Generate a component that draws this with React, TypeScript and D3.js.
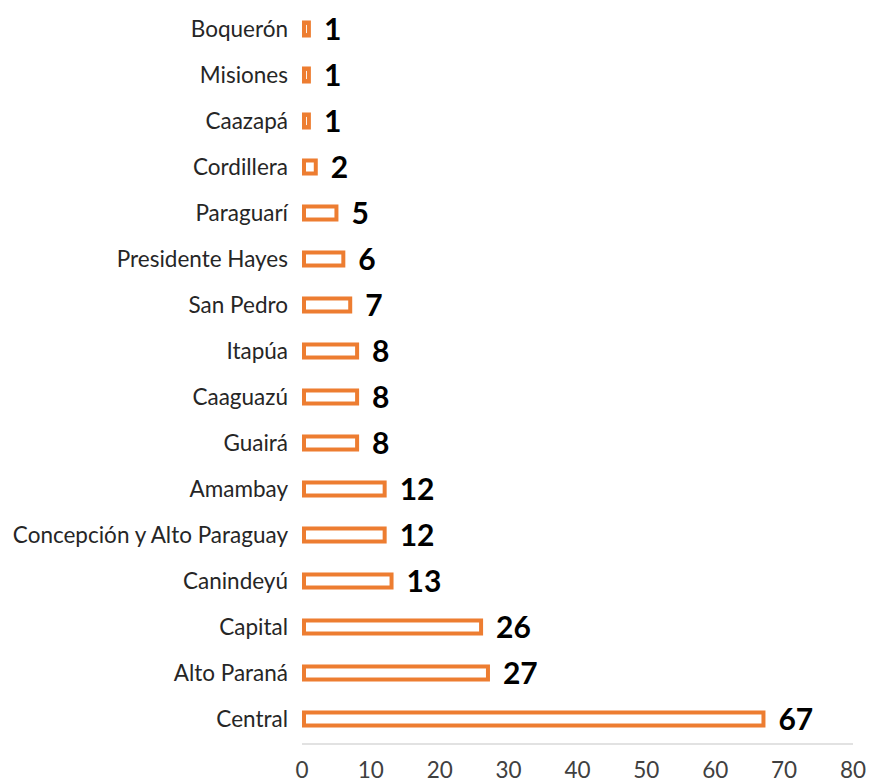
import React from "react";
import * as d3 from "d3";

const categories = [
  "Boquerón", "Misiones", "Caazapá", "Cordillera", "Paraguarí", "Presidente Hayes",
  "San Pedro", "Itapúa", "Caaguazú", "Guairá", "Amambay", "Concepción y Alto Paraguay",
  "Canindeyú", "Capital", "Alto Paraná", "Central",
];
const values = [1, 1, 1, 2, 5, 6, 7, 8, 8, 8, 12, 12, 13, 26, 27, 67];
const ticks = [0, 10, 20, 30, 40, 50, 60, 70, 80];

const W = 869, H = 783;

export default function App() {
  const x = d3.scaleLinear().domain([0, 80]).range([302, 853]);
  const y = d3.scaleBand<string>().domain(categories).range([6, 742]).paddingInner(0.63).paddingOuter(0.315);
  const bw = y.bandwidth();
  const sw = 4;
  const font = "Lato, 'Open Sans', sans-serif";
  return (
    <svg width={W} height={H} style={{ position: "absolute", left: 0, top: 0, background: "#fff" }}>
      <line x1={x(0)} x2={x(80)} y1={744} y2={744} stroke="#d9d9d9" strokeWidth={1.5} />
      {ticks.map((t) => (
        <text key={t} x={x(t)} y={777.5} textAnchor="middle" fontFamily={font} fontSize={22.5} fill="#404040">{t}</text>
      ))}
      {categories.map((c, i) => {
        const yc = (y(c) as number) + bw / 2;
        const v = values[i];
        const x0 = x(0), x1 = x(v);
        return (
          <g key={c}>
            <text x={288} y={yc} dy="0.35em" textAnchor="end" fontFamily={font} fontSize={22.5} fill="#262626">{c}</text>
            <rect x={x0 + sw / 2} y={(y(c) as number) + sw / 2} width={Math.max(0, x1 - x0 - sw / 2)} height={bw - sw}
              fill="#fff" stroke="#ED7D31" strokeWidth={sw} />
            <text x={x1 + 15} y={yc} dy="0.36em" fontFamily={font} fontSize={30} fontWeight="bold" fill="#000">{v}</text>
          </g>
        );
      })}
    </svg>
  );
}
